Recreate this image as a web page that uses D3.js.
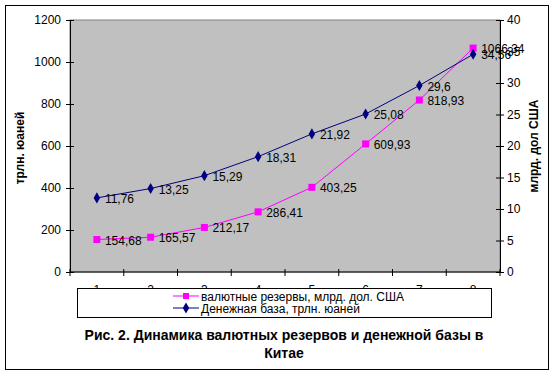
<!DOCTYPE html>
<html>
<head>
<meta charset="utf-8">
<script src="https://cdn.jsdelivr.net/npm/d3@7"></script>
<style>
  body { margin: 0; background: #fff; }
  text { font-family: Arial, "Liberation Sans", sans-serif; }
</style>
</head>
<body>
<div id="chart"></div>
<script>
// data
const categories = ["1", "2", "3", "4", "5", "6", "7", "8"];
const reserves = [154.68, 165.57, 212.17, 286.41, 403.25, 609.93, 818.93, 1066.34];
const moneyBase = [11.76, 13.25, 15.29, 18.31, 21.92, 25.08, 29.6, 34.56];
const seriesNames = ["валютные резервы, млрд. дол. США", "Денежная база, трлн. юаней"];
const titleLines = ["Рис. 2. Динамика валютных резервов и денежной базы в", "Китае"];

const W = 555, H = 376;
const PLOT = { LEFT: 70, RIGHT: 500, TOP: 20, BOTTOM: 272 };

const svg = d3.select("#chart").append("svg")
    .attr("width", W)
    .attr("height", H);

// outer frame
svg.append("rect")
    .attr("x", 5.5).attr("y", 5.5)
    .attr("width", 543).attr("height", 364)
    .attr("fill", "#fff")
    .attr("stroke", "#000");

const x = d3.scaleBand().domain(categories).range([PLOT.LEFT, PLOT.RIGHT]);
const yLeft = d3.scaleLinear().domain([0, 1200]).range([PLOT.BOTTOM, PLOT.TOP]);
const yRight = d3.scaleLinear().domain([0, 40]).range([PLOT.BOTTOM, PLOT.TOP]);
const cx = d => x(d) + x.bandwidth() / 2;

// plot area
svg.append("rect")
    .attr("x", PLOT.LEFT).attr("y", PLOT.TOP)
    .attr("width", PLOT.RIGHT - PLOT.LEFT).attr("height", PLOT.BOTTOM - PLOT.TOP)
    .attr("fill", "#c0c0c0")
    .attr("stroke", "#808080");

// axes, ticks crossing the axis line
const styleAxis = g => {
    g.select(".domain").attr("stroke", "#000");
    g.selectAll(".tick line").attr("stroke", "#000");
    g.selectAll(".tick text").style("font-size", "12px").attr("fill", "#000");
};

svg.append("g")
    .attr("transform", `translate(${PLOT.LEFT},0)`)
    .call(d3.axisLeft(yLeft).ticks(6).tickFormat(d3.format("d")).tickSize(4).tickSizeOuter(0).tickPadding(5))
    .call(styleAxis)
    .call(g => g.selectAll(".tick line").attr("x1", 4));

svg.append("g")
    .attr("transform", `translate(${PLOT.RIGHT},0)`)
    .call(d3.axisRight(yRight).ticks(8).tickSize(4).tickSizeOuter(0).tickPadding(3))
    .call(styleAxis)
    .call(g => g.selectAll(".tick line").attr("x1", -4));

// category axis: ticks between categories
const xAxis = svg.append("g").attr("transform", `translate(0,${PLOT.BOTTOM})`);
xAxis.append("line")
    .attr("x1", PLOT.LEFT).attr("x2", PLOT.RIGHT)
    .attr("stroke", "#000");
xAxis.selectAll("line.tk")
    .data(categories.concat([null]))
    .enter().append("line")
    .attr("class", "tk")
    .attr("x1", d => d === null ? PLOT.RIGHT : x(d))
    .attr("x2", d => d === null ? PLOT.RIGHT : x(d))
    .attr("y1", -3).attr("y2", 4)
    .attr("stroke", "#000");
xAxis.selectAll("text")
    .data(categories)
    .enter().append("text")
    .attr("x", d => cx(d))
    .attr("y", 22)
    .attr("text-anchor", "middle")
    .style("font-size", "12px")
    .text(d => d);

// axis titles
svg.append("text")
    .attr("transform", "translate(24,148) rotate(-90)")
    .attr("text-anchor", "middle")
    .style("font-size", "12px").style("font-weight", "bold")
    .text("трлн. юаней");

svg.append("text")
    .attr("transform", "translate(538,146) rotate(-90)")
    .attr("text-anchor", "middle")
    .style("font-size", "12px").style("font-weight", "bold")
    .text("млрд. дол США");

const fmt = v => String(v).replace(".", ",");
const diamond = d3.symbol().type(d3.symbolDiamond).size(36);

// reserves (pink, left scale)
const pinkLine = d3.line().x((d, i) => cx(categories[i])).y(d => yLeft(d));
svg.append("path")
    .datum(reserves)
    .attr("d", pinkLine)
    .attr("fill", "none")
    .attr("stroke", "#ff00ff")
    .attr("stroke-width", 1);

// money base (navy, right scale)
const navyLine = d3.line().x((d, i) => cx(categories[i])).y(d => yRight(d));
svg.append("path")
    .datum(moneyBase)
    .attr("d", navyLine)
    .attr("fill", "none")
    .attr("stroke", "#000080")
    .attr("stroke-width", 1);

svg.selectAll("rect.pm")
    .data(reserves)
    .enter().append("rect")
    .attr("class", "pm")
    .attr("x", (d, i) => cx(categories[i]) - 3.5)
    .attr("y", d => yLeft(d) - 3.5)
    .attr("width", 7).attr("height", 7)
    .attr("fill", "#ff00ff");

svg.selectAll("path.nm")
    .data(moneyBase)
    .enter().append("path")
    .attr("class", "nm")
    .attr("d", diamond)
    .attr("transform", (d, i) => `translate(${cx(categories[i])},${yRight(d)})`)
    .attr("fill", "#000080");

// data labels
svg.selectAll("text.pl")
    .data(reserves)
    .enter().append("text")
    .attr("class", "pl")
    .attr("x", (d, i) => cx(categories[i]) + 8)
    .attr("y", d => yLeft(d) + 5)
    .style("font-size", "12px")
    .text(fmt);

svg.selectAll("text.nl")
    .data(moneyBase)
    .enter().append("text")
    .attr("class", "nl")
    .attr("x", (d, i) => cx(categories[i]) + 8)
    .attr("y", d => yRight(d) + 5)
    .style("font-size", "12px")
    .text(fmt);

// legend (covers most of the category labels, as in the original)
const legend = svg.append("g");
legend.append("rect")
    .attr("x", 77.5).attr("y", 288.5)
    .attr("width", 414).attr("height", 29)
    .attr("fill", "#fff")
    .attr("stroke", "#000");

const legendRows = legend.selectAll("g.row")
    .data(seriesNames)
    .enter().append("g")
    .attr("class", "row")
    .attr("transform", (d, i) => `translate(0,${296 + i * 12})`);

legendRows.append("line")
    .attr("x1", 173).attr("x2", 199)
    .attr("stroke", (d, i) => i ? "#000080" : "#ff00ff");

legendRows.each(function(d, i) {
    const g = d3.select(this);
    if (i === 0) {
        g.append("rect").attr("x", 183).attr("y", -3).attr("width", 6).attr("height", 6).attr("fill", "#ff00ff");
    } else {
        g.append("path").attr("d", diamond).attr("transform", "translate(186,0)").attr("fill", "#000080");
    }
});

legendRows.append("text")
    .attr("x", 201)
    .attr("y", 4.5)
    .style("font-size", "12px")
    .text(d => d);

// caption
svg.selectAll("text.title")
    .data(titleLines)
    .enter().append("text")
    .attr("class", "title")
    .attr("x", 284)
    .attr("y", (d, i) => 340 + i * 18)
    .attr("text-anchor", "middle")
    .style("font-size", "14px")
    .style("font-weight", "bold")
    .text(d => d);
</script>
</body>
</html>
